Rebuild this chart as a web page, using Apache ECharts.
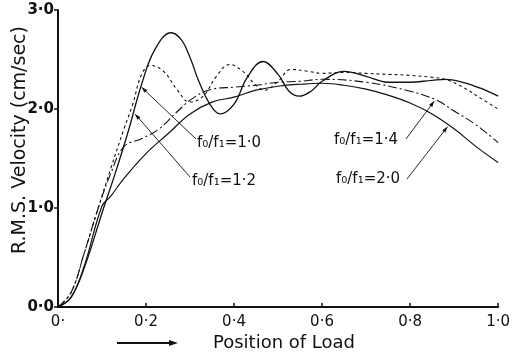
<!DOCTYPE html>
<html>
<head>
<meta charset="utf-8">
<script src="https://cdn.jsdelivr.net/npm/echarts@6/dist/echarts.min.js"></script>
<style>
  html, body { margin: 0; padding: 0; background: #fff; }
  #chart { width: 513px; height: 353px; }
</style>
</head>
<body>
<div id="chart"></div>
<script>
// load position (x) and r.m.s. velocity (y), one pair of arrays per curve
const posR10 = [0, 0.03, 0.06, 0.1, 0.13, 0.16, 0.19, 0.22, 0.257, 0.28, 0.3, 0.32, 0.345, 0.368, 0.4, 0.43, 0.466, 0.5, 0.525, 0.548, 0.575, 0.6, 0.65, 0.7, 0.75, 0.8, 0.85, 0.88, 0.92, 0.96, 1.0];
const velR10 = [0, 0.1, 0.4, 0.95, 1.35, 1.78, 2.25, 2.6, 2.77, 2.7, 2.52, 2.28, 2.05, 1.95, 2.05, 2.32, 2.48, 2.35, 2.18, 2.13, 2.18, 2.28, 2.38, 2.33, 2.27, 2.27, 2.29, 2.3, 2.27, 2.21, 2.13];

const posR12 = [0, 0.03, 0.06, 0.09, 0.12, 0.15, 0.17, 0.19, 0.21, 0.24, 0.27, 0.3, 0.33, 0.36, 0.39, 0.42, 0.45, 0.47, 0.5, 0.53, 0.57, 0.6, 0.65, 0.7, 0.75, 0.8, 0.85, 0.88, 0.92, 0.96, 1.0];
const velR12 = [0, 0.15, 0.55, 0.98, 1.4, 1.8, 2.05, 2.35, 2.44, 2.38, 2.2, 2.07, 2.13, 2.33, 2.45, 2.38, 2.24, 2.19, 2.28, 2.4, 2.38, 2.36, 2.37, 2.36, 2.35, 2.34, 2.32, 2.3, 2.22, 2.11, 2.0];

const posR14 = [0, 0.03, 0.06, 0.09, 0.12, 0.15, 0.19, 0.23, 0.27, 0.31, 0.35, 0.4, 0.45, 0.5, 0.55, 0.6, 0.7, 0.8, 0.86, 0.9, 0.95, 1.0];
const velR14 = [0, 0.15, 0.55, 0.98, 1.35, 1.62, 1.7, 1.8, 1.97, 2.12, 2.2, 2.22, 2.24, 2.27, 2.28, 2.3, 2.27, 2.18, 2.09, 1.98, 1.84, 1.66];

const posR20 = [0, 0.03, 0.06, 0.1, 0.12, 0.15, 0.2, 0.25, 0.3, 0.35, 0.4, 0.45, 0.5, 0.55, 0.6, 0.65, 0.7, 0.75, 0.8, 0.85, 0.9, 0.95, 1.0];
const velR20 = [0, 0.1, 0.42, 1.02, 1.12, 1.3, 1.55, 1.75, 1.95, 2.07, 2.12, 2.19, 2.23, 2.25, 2.26, 2.24, 2.2, 2.14, 2.06, 1.95, 1.8, 1.62, 1.46];

const xTickText = ['0·', '0·2', '0·4', '0·6', '0·8', '1·0'];
const yTickText = ['0·0', '1·0', '2·0', '3·0'];

function pairs(xs, ys) {
  return xs.map(function (x, i) { return [x, ys[i]]; });
}

const ink = '#111';
const font = 'DejaVu Sans';

let chart = echarts.init(document.getElementById('chart'));
chart.setOption({
  animation: false,
  grid: { left: 58, top: 10, width: 444, height: 297 },
  xAxis: {
    type: 'value', min: 0, max: 1, interval: 0.2,
    axisLine: { lineStyle: { color: ink, width: 2 } },
    axisTick: { inside: true, length: 4, lineStyle: { color: ink, width: 1.5 } },
    splitLine: { show: false },
    axisLabel: {
      color: ink, fontFamily: font, fontSize: 15, margin: 8,
      formatter: function (v) { return xTickText[Math.round(v / 0.2)]; }
    }
  },
  yAxis: {
    type: 'value', min: 0, max: 3, interval: 1,
    axisLine: { show: true, lineStyle: { color: ink, width: 2 } },
    axisTick: { show: true, length: 4, lineStyle: { color: ink, width: 1.5 } },
    splitLine: { show: false },
    axisLabel: {
      color: ink, fontFamily: font, fontSize: 15, fontWeight: 'bold', margin: 4,
      formatter: function (v) { return yTickText[Math.round(v)]; }
    }
  },
  series: [
    {
      name: 'f0/f1=1.0', type: 'line', data: pairs(posR10, velR10), smooth: 0.4,
      symbol: 'none', lineStyle: { color: ink, width: 1.3, type: 'solid' }
    },
    {
      name: 'f0/f1=1.2', type: 'line', data: pairs(posR12, velR12), smooth: 0.4,
      symbol: 'none', lineStyle: { color: ink, width: 1.1, type: [3, 3] }
    },
    {
      name: 'f0/f1=1.4', type: 'line', data: pairs(posR14, velR14), smooth: 0.4,
      symbol: 'none', lineStyle: { color: ink, width: 1.1, type: [9, 3, 2, 3] }
    },
    {
      name: 'f0/f1=2.0', type: 'line', data: pairs(posR20, velR20), smooth: 0.4,
      symbol: 'none', lineStyle: { color: ink, width: 1.2, type: 'solid' }
    }
  ]
});

// curve labels with pointer lines; tips sit on the curves (data coords), labels at pixel spots
const notes = [
  { text: 'f₀/f₁=1·0', tip: [0.19, 2.22], tail: [196, 139], at: [197, 143] },
  { text: 'f₀/f₁=1·2', tip: [0.175, 1.95], tail: [190, 177], at: [192, 181] },
  { text: 'f₀/f₁=1·4', tip: [0.855, 2.08], tail: [406, 139], at: [334, 140] },
  { text: 'f₀/f₁=2·0', tip: [0.885, 1.82], tail: [407, 179], at: [336, 179] }
];

function arrowHead(from, to, len, half) {
  const dx = to[0] - from[0], dy = to[1] - from[1];
  const d = Math.sqrt(dx * dx + dy * dy);
  const ux = dx / d, uy = dy / d;
  const bx = to[0] - ux * len, by = to[1] - uy * len;
  return [to, [bx - uy * half, by + ux * half], [bx + uy * half, by - ux * half]];
}

let elements = [];
notes.forEach(function (n) {
  const tip = chart.convertToPixel({ gridIndex: 0 }, n.tip);
  elements.push({
    type: 'line', silent: true,
    shape: { x1: n.tail[0], y1: n.tail[1], x2: tip[0], y2: tip[1] },
    style: { stroke: ink, lineWidth: 0.9 }
  });
  elements.push({
    type: 'polygon', silent: true,
    shape: { points: arrowHead(n.tail, tip, 6, 2) },
    style: { fill: ink }
  });
  elements.push({
    type: 'text', silent: true, x: n.at[0], y: n.at[1],
    style: { text: n.text, fill: ink, font: '15px ' + font, textVerticalAlign: 'middle' }
  });
});

// axis titles
elements.push({
  type: 'text', silent: true, x: 20, y: 140, rotation: Math.PI / 2,
  style: {
    text: 'R.M.S. Velocity (cm/sec)', fill: ink, font: '19px ' + font,
    textAlign: 'center', textVerticalAlign: 'middle'
  }
});
elements.push({
  type: 'text', silent: true, x: 284, y: 343,
  style: {
    text: 'Position of Load', fill: ink, font: '18px ' + font,
    textAlign: 'center', textVerticalAlign: 'middle'
  }
});

// the direction arrow under the x axis
elements.push({
  type: 'line', silent: true,
  shape: { x1: 117, y1: 343, x2: 174, y2: 343 },
  style: { stroke: ink, lineWidth: 2 }
});
elements.push({
  type: 'polygon', silent: true,
  shape: { points: arrowHead([117, 343], [178, 343], 9, 3) },
  style: { fill: ink }
});

chart.setOption({ graphic: { elements: elements } });
</script>
</body>
</html>
